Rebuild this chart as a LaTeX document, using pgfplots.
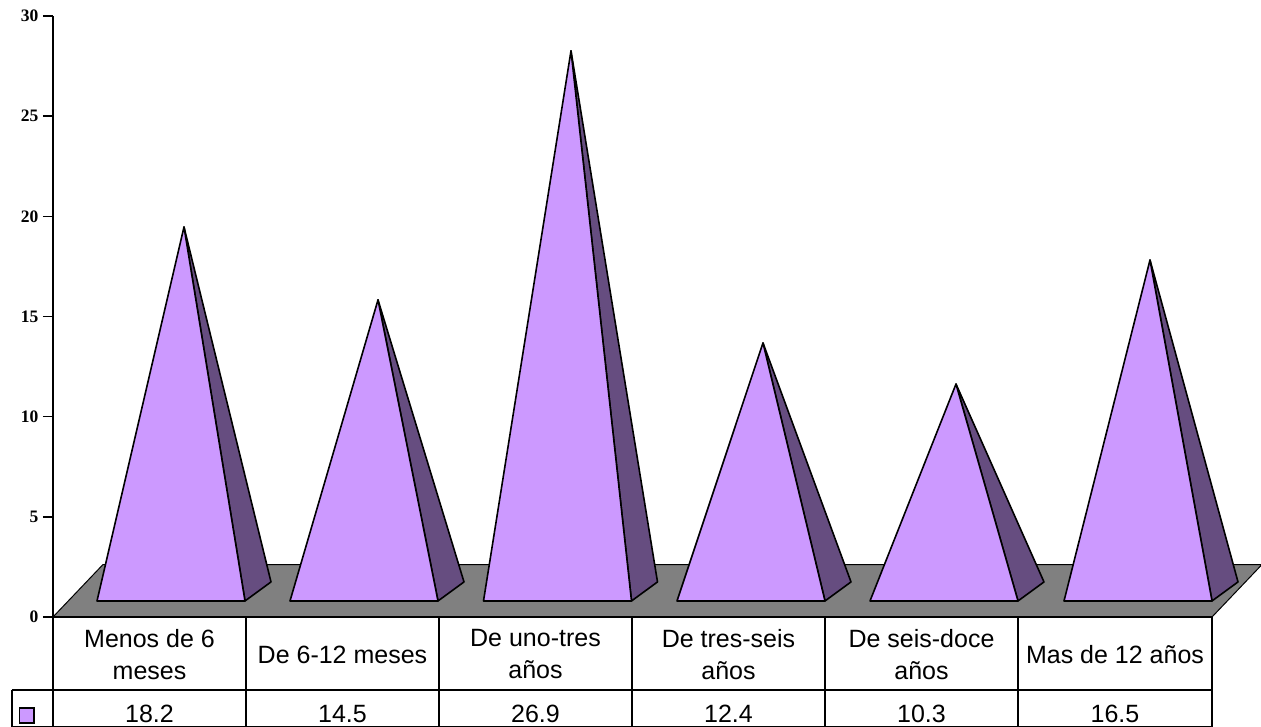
\documentclass[border=0pt]{standalone}
\usepackage{pgfplots}
\usepackage{fontspec}
\pgfplotsset{compat=1.18}
\setmainfont{Liberation Sans}
\newfontfamily\tickfont{Liberation Serif}
\definecolor{lightp}{HTML}{CC99FF}
\definecolor{darkp}{HTML}{664D80}
\definecolor{floorc}{HTML}{808080}
\pgfplotsset{
  pyr/.style={draw=black,line width=1.6pt,line join=round,fill=lightp},
  pyrd/.style={draw=black,line width=1.6pt,line join=round,fill=darkp},
  tline/.style={draw=black,line width=1.5pt,forget plot},
}
\begin{document}
\begin{tikzpicture}[x=1pt,y=1pt]
\path[use as bounding box] (-53pt,-110pt) rectangle (1208pt,617pt);
\begin{axis}[
  at={(0pt,0pt)},anchor=origin,
  scale only axis,width=1209pt,height=601pt,
  xmin=53,xmax=1262,ymin=0,ymax=30,
  clip=false,
  axis x line=none,
  axis y line=left,
  axis line style={-,line width=1.5pt},
  ytick={0,5,...,30},
  tick align=outside,
  major tick length=10pt,
  tick style={black,line width=1.5pt},
  y tick label style={font=\tickfont\bfseries\fontsize{17.5}{17.5}\selectfont,/pgf/number format/assume math mode=true,xshift=-1pt},
  axis on top=false,
]
% floor
\addplot[draw=black,line width=1pt,fill=floorc,forget plot] coordinates {(53,0)(103,2.62)(1262,2.62)(1212,0)} -- cycle;
\addplot[tline,line width=2pt] coordinates {(53,0)(1212,0)};
% pyramids: dark side, then front face
\addplot[pyrd,forget plot] coordinates {(245,0.8)(271,1.75)(184,19.47)} -- cycle;
\addplot[pyr,forget plot] coordinates {(97,0.8)(245,0.8)(184,19.47)} -- cycle;
\addplot[pyrd,forget plot] coordinates {(438,0.8)(464,1.75)(378,15.83)} -- cycle;
\addplot[pyr,forget plot] coordinates {(290,0.8)(438,0.8)(378,15.83)} -- cycle;
\addplot[pyrd,forget plot] coordinates {(631.5,0.8)(657.5,1.75)(571,28.26)} -- cycle;
\addplot[pyr,forget plot] coordinates {(483.5,0.8)(631.5,0.8)(571,28.26)} -- cycle;
\addplot[pyrd,forget plot] coordinates {(825,0.8)(851,1.75)(763,13.68)} -- cycle;
\addplot[pyr,forget plot] coordinates {(677,0.8)(825,0.8)(763,13.68)} -- cycle;
\addplot[pyrd,forget plot] coordinates {(1018,0.8)(1044,1.75)(956,11.63)} -- cycle;
\addplot[pyr,forget plot] coordinates {(870,0.8)(1018,0.8)(956,11.63)} -- cycle;
\addplot[pyrd,forget plot] coordinates {(1212,0.8)(1238,1.75)(1150,17.82)} -- cycle;
\addplot[pyr,forget plot] coordinates {(1064,0.8)(1212,0.8)(1150,17.82)} -- cycle;
% data table grid
\addplot[tline] coordinates {(53,0)(53,-5.5)};
\addplot[tline] coordinates {(246,0)(246,-5.5)};
\addplot[tline] coordinates {(439,0)(439,-5.5)};
\addplot[tline] coordinates {(632,0)(632,-5.5)};
\addplot[tline] coordinates {(825,0)(825,-5.5)};
\addplot[tline] coordinates {(1018,0)(1018,-5.5)};
\addplot[tline] coordinates {(1212,0)(1212,-5.5)};
\addplot[tline] coordinates {(12,-3.65)(1212,-3.65)};
\addplot[tline] coordinates {(12,-5.48)(1212,-5.48)};
\addplot[tline] coordinates {(12,-3.65)(12,-5.5)};
\addplot[draw=black,line width=1.5pt,fill=lightp,forget plot] coordinates {(19.5,-4.55)(34,-4.55)(34,-5.28)(19.5,-5.28)} -- cycle;
% table text
\begin{scope}[every node/.style={font=\fontsize{25}{32}\selectfont,align=center,anchor=center,inner sep=0pt}]
\node at (axis cs:149.5,-1.87) {Menos de 6\\meses};
\node at (axis cs:342.5,-1.87) {De 6-12 meses};
\node at (axis cs:535.5,-1.87) {De uno-tres\\años};
\node at (axis cs:728.5,-1.87) {De tres-seis\\años};
\node at (axis cs:921.5,-1.87) {De seis-doce\\años};
\node at (axis cs:1115,-1.87) {Mas de 12 años};
\node at (axis cs:149.5,-4.83) {18.2};
\node at (axis cs:342.5,-4.83) {14.5};
\node at (axis cs:535.5,-4.83) {26.9};
\node at (axis cs:728.5,-4.83) {12.4};
\node at (axis cs:921.5,-4.83) {10.3};
\node at (axis cs:1115,-4.83) {16.5};
\end{scope}
\end{axis}
\end{tikzpicture}
\end{document}
